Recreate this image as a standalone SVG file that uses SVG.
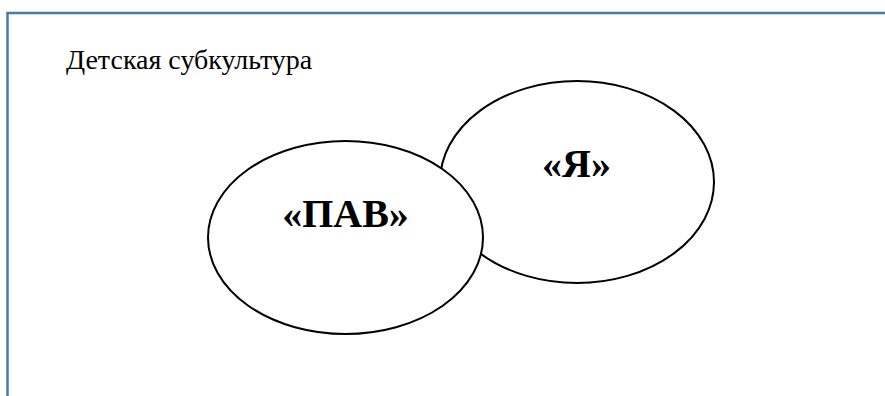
<svg xmlns="http://www.w3.org/2000/svg" width="885" height="396" viewBox="0 0 885 396">
<style>
.frame{fill:none;stroke:#4a79a9;stroke-width:2.5}
.ell{fill:#fff;stroke:#000;stroke-width:2}
.lbl{font-family:"Liberation Serif",serif;font-weight:bold;text-anchor:middle;fill:#000}
.title{font-family:"Liberation Serif",serif;font-size:28px;fill:#000}
</style>
<rect width="885" height="396" fill="#fff"/>
<path class="frame" d="M7.5,396 V13 H885"/>
<text class="title" x="66" y="69">Детская субкультура</text>
<g id="node-ya">
<ellipse class="ell" cx="577" cy="182" rx="137" ry="101"/>
<text class="lbl" x="576.5" y="177" font-size="40">«Я»</text>
</g>
<g id="node-pav">
<ellipse class="ell" cx="345.5" cy="237.5" rx="137.5" ry="96.5"/>
<text class="lbl" x="345.5" y="227" font-size="40">«ПАВ»</text>
</g>
<g id="connectors"/>
</svg>
